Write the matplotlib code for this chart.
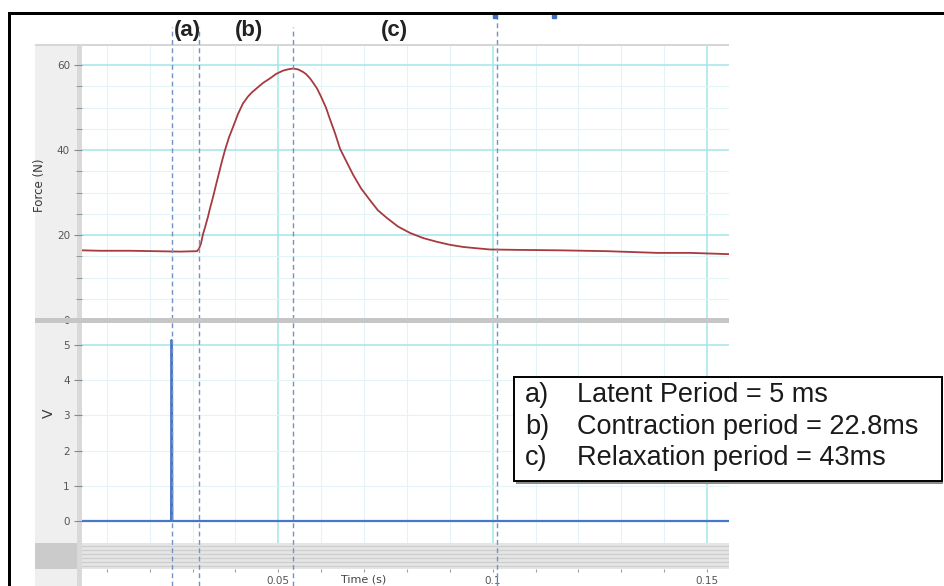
import matplotlib
matplotlib.use("Agg")
import matplotlib.pyplot as plt
from matplotlib.patches import Rectangle
from matplotlib.ticker import MultipleLocator, FormatStrFormatter, FuncFormatter

W, H = 944, 586

# force trace (time in s, force in N)
time_s = [0.00422, 0.00842, 0.01541, 0.02125, 0.02708, 0.03104, 0.03151, 0.03197,
          0.03244, 0.03291, 0.03360, 0.03405, 0.03477, 0.03547, 0.03617, 0.03687,
          0.03757, 0.03850, 0.03943, 0.04060, 0.04177, 0.04293, 0.04386, 0.04503,
          0.04643, 0.04810, 0.04946, 0.05110, 0.05226, 0.05343, 0.05459, 0.05576,
          0.05646, 0.05739, 0.05809, 0.05903, 0.05996, 0.06112, 0.06207, 0.06322,
          0.06440, 0.06579, 0.06744, 0.06929, 0.07138, 0.07325, 0.07535, 0.07792,
          0.08071, 0.08375, 0.08701, 0.09004, 0.09307, 0.09611, 0.09937, 0.10637,
          0.11570, 0.12666, 0.13832, 0.14601, 0.15511]
force_n = [16.4, 16.3, 16.3, 16.2, 16.1, 16.2, 16.8, 18.0,
           20.2, 21.8, 24.3, 26.2, 28.9, 31.8, 34.6, 37.4,
           40.0, 43.0, 45.4, 48.5, 51.0, 52.6, 53.6, 54.6,
           55.8, 56.9, 57.9, 58.7, 59.0, 59.2, 59.0, 58.4,
           57.9, 56.9, 55.9, 54.5, 52.6, 50.0, 47.2, 44.0,
           40.3, 37.5, 34.2, 31.0, 28.2, 25.8, 24.0, 22.0,
           20.5, 19.3, 18.4, 17.7, 17.2, 16.9, 16.6, 16.5,
           16.4, 16.2, 15.8, 15.8, 15.5]

# stimulus channel
stim_time_s = [0.00422, 0.02500, 0.02509, 0.02518, 0.02527, 0.15511]
stim_v = [0.0, 0.0, 5.14, 5.10, 0.0, 0.0]

# phase markers
phase_lines_s = [0.02528, 0.03151, 0.05336, 0.10090]
phase_line_top_px = [27, 27, 27, 18]
phase_labels = ["(a)", "(b)", "(c)"]
phase_label_s = [0.02871, 0.04317, 0.07698]
cursor_s = [0.10060, 0.11430]

legend_keys = ["a)", "b)", "c)"]
legend_texts = ["Latent Period = 5 ms", "Contraction period = 22.8ms",
                "Relaxation period = 43ms"]

XLIM = (0.00422, 0.15511)
CYAN = "#a3e6ea"
FAINT = "#e3f4f7"
TICKC = "#555555"

fig = plt.figure(figsize=(W / 100, H / 100), dpi=100)


def px_axes(x0, y0, x1, y1, **kw):
    return fig.add_axes([x0 / W, 1 - y1 / H, (x1 - x0) / W, (y1 - y0) / H], **kw)


def px_layer(z):
    ax = fig.add_axes([0, 0, 1, 1], zorder=z)
    ax.set_xlim(0, W)
    ax.set_ylim(H, 0)
    ax.axis("off")
    ax.patch.set_alpha(0)
    return ax


# background chrome
bg = px_layer(0)
bg.add_patch(Rectangle((35, 45), 42, H - 45, color="#efefef", lw=0))
bg.add_patch(Rectangle((77, 45), 5, H - 45, color="#d9d9d9", lw=0))
bg.add_patch(Rectangle((35, 44), 694, 2, color="#d6d6d6", lw=0))
bg.add_patch(Rectangle((35, 543), 42, 26, color="#cbcbcb", lw=0))


def style_trace_axes(ax):
    for s in ax.spines.values():
        s.set_visible(False)
    ax.patch.set_alpha(0)
    ax.set_xlim(*XLIM)
    ax.xaxis.set_major_locator(MultipleLocator(0.05))
    ax.xaxis.set_minor_locator(MultipleLocator(0.01))
    ax.tick_params(axis="x", which="both", length=0, labelbottom=False)
    ax.tick_params(axis="y", which="both", colors="#8a8a8a", labelcolor=TICKC,
                   labelsize=7.5, length=5.8, width=0.8, pad=2.9)
    ax.grid(which="major", color=CYAN, lw=1.1)
    ax.grid(which="minor", color=FAINT, lw=0.8)
    ax.set_axisbelow(True)


# force panel
ax_f = px_axes(82, 46, 729, 320, zorder=2)
style_trace_axes(ax_f)
ax_f.set_ylim(0, 64.5)
ax_f.yaxis.set_major_locator(MultipleLocator(20))
ax_f.yaxis.set_minor_locator(MultipleLocator(5))
ax_f.tick_params(axis="y", which="minor", length=4.5, width=0.6)
ax_f.plot(time_s, force_n, color="#a63a3e", lw=1.3, zorder=3,
          solid_joinstyle="round")

# stimulus panel
ax_v = px_axes(82, 320, 729, 543, zorder=1)
style_trace_axes(ax_v)
ax_v.set_ylim(-0.625, 5.71)
ax_v.yaxis.set_major_locator(MultipleLocator(5))
ax_v.yaxis.set_minor_locator(MultipleLocator(1))
ax_v.yaxis.set_major_formatter(FormatStrFormatter("%d"))
ax_v.yaxis.set_minor_formatter(FormatStrFormatter("%d"))
ax_v.plot(stim_time_s, stim_v, color="#4677c8", lw=1.6, zorder=3)

# scroll band with the time axis
ax_b = px_axes(82, 543, 729, 569, zorder=1)
for s in ax_b.spines.values():
    s.set_visible(False)
ax_b.set_facecolor("#e5e5e5")
ax_b.set_xlim(*XLIM)
ax_b.set_ylim(0, 26)
ax_b.set_yticks([3, 7, 11, 15, 19, 23])
ax_b.tick_params(axis="y", length=0, labelleft=False)
ax_b.grid(axis="y", color="#cecece", lw=0.9)
ax_b.xaxis.set_major_locator(MultipleLocator(0.05))
ax_b.xaxis.set_minor_locator(MultipleLocator(0.01))
ax_b.xaxis.set_major_formatter(FuncFormatter(lambda v, p: f"{v:g}"))
ax_b.tick_params(axis="x", which="both", colors="#a0a0a0", labelcolor=TICKC,
                 labelsize=7.5, length=2.2, width=0.8, pad=2.9)


def frac(py):
    # pixel row -> fraction of the force panel height
    return (320 - py) / 274.0


xt = ax_f.get_xaxis_transform()
for t, top in zip(phase_lines_s, phase_line_top_px):
    ax_f.plot([t, t], [frac(H), frac(top)], transform=xt, clip_on=False,
              color="#7592c4", lw=1.0, ls=(0, (3.5, 2.5)), zorder=4)
ax_f.plot(cursor_s, [frac(16)] * len(cursor_s), "s", ms=2.6, color="#3b6fc0",
          transform=xt, clip_on=False, zorder=5)
for t, lab in zip(phase_label_s, phase_labels):
    ax_f.text(t, frac(36), lab, transform=xt, ha="center", va="baseline",
              fontsize=16, fontweight="bold", family="Liberation Sans",
              color="#222222")

fig.text(40 / W, 1 - 185 / H, "Force (N)", rotation=90, ha="center", va="center",
         fontsize=8.5, color="#3a3a3a")
fig.text(49 / W, 1 - 413 / H, "V", rotation=90, ha="center", va="center",
         fontsize=10, color="#3a3a3a")
fig.text(364 / W, 1 - 574 / H, "Time (s)", ha="center", va="top",
         fontsize=8, color="#444444")

# foreground chrome: separator, frame, legend box
ov = px_layer(6)
ov.add_patch(Rectangle((35, 318), 694, 4.5, color="#c6c6c6", lw=0))
ov.add_patch(Rectangle((8, 11.5), W - 8, 3, color="black", lw=0))
ov.add_patch(Rectangle((8, 11.5), 3, H - 11.5, color="black", lw=0))
ov.add_patch(Rectangle((516, 379), 427, 105, color="#8c8c8c", lw=0))
ov.add_patch(Rectangle((514, 377), 428, 104, facecolor="white",
                       edgecolor="black", lw=1.4))
for i, (k, txt) in enumerate(zip(legend_keys, legend_texts)):
    yb = 402 + i * 31.5
    ov.text(525, yb, k, ha="left", va="baseline", fontsize=19.5,
            family="Liberation Sans", color="#1a1a1a")
    ov.text(577, yb, txt, ha="left", va="baseline", fontsize=19.5,
            family="Liberation Sans", color="#1a1a1a")

fig.savefig("out.png", dpi=100, facecolor="white")
